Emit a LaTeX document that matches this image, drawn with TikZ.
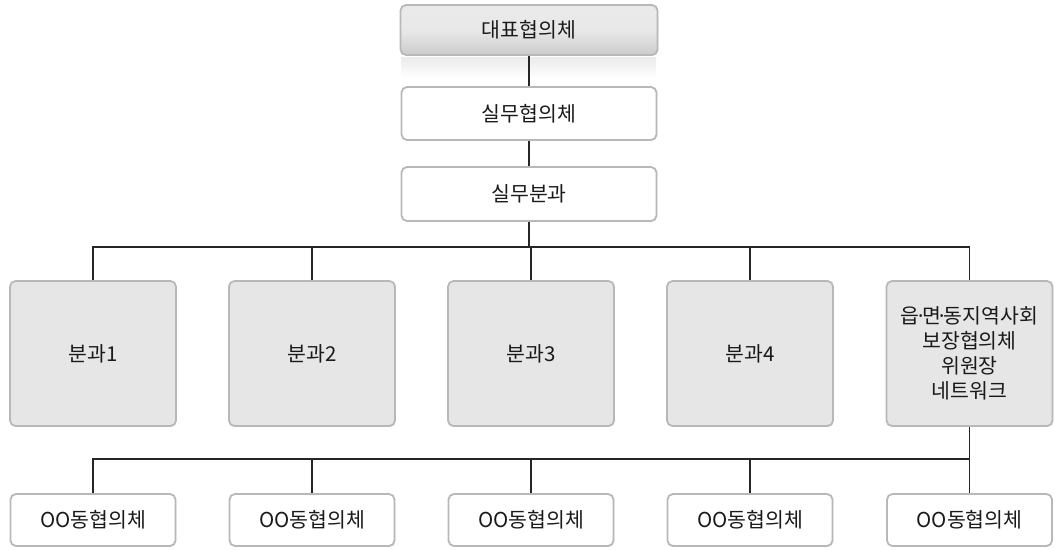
\documentclass[tikz,border=0pt]{standalone}
\usepackage{fontspec}
\setmainfont{Noto Sans CJK KR}
\usetikzlibrary{shadows}
\definecolor{bordergray}{HTML}{B8B8B8}
\definecolor{fillgray}{HTML}{E6E6E6}
\definecolor{txt}{HTML}{1A1A1A}
\newcommand{\ndot}{\kern-4.5pt·\kern-4.5pt}
\tikzset{
  box/.style={draw=bordergray, line width=1.8pt, rounded corners=5.5pt, fill=white,
    text=txt, font=\fontsize{20.5}{25}\selectfont, align=center, inner sep=0pt,
    drop shadow={shadow xshift=0.8pt, shadow yshift=-0.8pt, opacity=0.18}},
  graybox/.style={box, fill=fillgray},
  topbox/.style={box, top color=white!92!black, bottom color=black!20, middle color=black!9},
  link/.style={draw=black!85, line width=1.1pt},
}
\begin{document}
\begin{tikzpicture}[x=1pt,y=-1pt]
\useasboundingbox (0,0) rectangle (1055,549);
% reflection under top box
\shade[top color=black!8, bottom color=white] (401,57) rectangle (656,78);
\node[topbox, minimum width=257pt, minimum height=50pt] (top) at (529,30) {대표협의체};
\node[box, minimum width=255pt, minimum height=53pt] (w1) at (529,113.5) {실무협의체};
\node[box, minimum width=255pt, minimum height=54pt] (w2) at (529,194) {실무분과};

\node[graybox, minimum width=166pt, minimum height=145pt] (b1) at (93,353.5) {분과1};
\node[graybox, minimum width=166pt, minimum height=145pt] (b2) at (312,353.5) {분과2};
\node[graybox, minimum width=166pt, minimum height=145pt] (b3) at (531,353.5) {분과3};
\node[graybox, minimum width=166pt, minimum height=145pt] (b4) at (750,353.5) {분과4};
\node[graybox, minimum width=166pt, minimum height=145pt] (b5) at (969.5,353.5) {읍\ndot 면\ndot 동지역사회\\보장협의체\\위원장\\네트워크};

\node[box, minimum width=165pt, minimum height=52pt] (c1) at (93,520) {OO동협의체};
\node[box, minimum width=165pt, minimum height=52pt] (c2) at (312,520) {OO동협의체};
\node[box, minimum width=165pt, minimum height=52pt] (c3) at (531,520) {OO동협의체};
\node[box, minimum width=165pt, minimum height=52pt] (c4) at (750,520) {OO동협의체};
\node[box, minimum width=165pt, minimum height=52pt] (c5) at (969.5,520) {OO동협의체};

\coordinate (bus1) at (529,247);
\coordinate (bus2) at (969.5,459);

\path[link] (top.south) -- (w1.north);
\path[link] (w1.south) -- (w2.north);
\path[link] (w2.south) -- (bus1);
\path[link] (b1.north) |- (bus1) -| (b5.north);
\path[link] (b2.north) -- (b2.north |- bus1);
\path[link] (b3.north) -- (b3.north |- bus1);
\path[link] (b4.north) -- (b4.north |- bus1);
\path[link] (b5.south) -- (c5.north);
\path[link] (c1.north) |- (bus2);
\path[link] (c2.north) -- (c2.north |- bus2);
\path[link] (c3.north) -- (c3.north |- bus2);
\path[link] (c4.north) -- (c4.north |- bus2);
\end{tikzpicture}
\end{document}
